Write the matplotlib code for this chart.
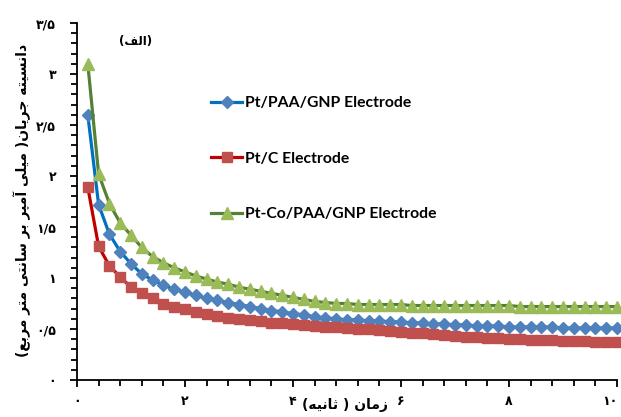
import matplotlib
matplotlib.use("Agg")
import matplotlib.pyplot as plt
from matplotlib.ticker import MultipleLocator, FixedLocator

# ---------------- data ----------------
time_s = [0.2, 0.4, 0.6, 0.8, 1.0, 1.2, 1.4, 1.6, 1.8, 2.0,
          2.2, 2.4, 2.6, 2.8, 3.0, 3.2, 3.4, 3.6, 3.8, 4.0,
          4.2, 4.4, 4.6, 4.8, 5.0, 5.2, 5.4, 5.6, 5.8, 6.0,
          6.2, 6.4, 6.6, 6.8, 7.0, 7.2, 7.4, 7.6, 7.8, 8.0,
          8.2, 8.4, 8.6, 8.8, 9.0, 9.2, 9.4, 9.6, 9.8, 10.0]

pt_paa_gnp = [2.60, 1.72, 1.43, 1.26, 1.14, 1.04, 0.98, 0.93, 0.89, 0.86,
              0.83, 0.80, 0.78, 0.76, 0.74, 0.72, 0.70, 0.68, 0.67, 0.65,
              0.64, 0.62, 0.61, 0.60, 0.59, 0.59, 0.58, 0.58, 0.57, 0.57,
              0.56, 0.56, 0.55, 0.55, 0.54, 0.54, 0.53, 0.53, 0.53, 0.52,
              0.52, 0.52, 0.52, 0.52, 0.51, 0.51, 0.51, 0.51, 0.51, 0.51]

pt_c = [1.89, 1.31, 1.12, 1.01, 0.91, 0.85, 0.80, 0.75, 0.72, 0.70,
        0.67, 0.65, 0.63, 0.61, 0.60, 0.59, 0.58, 0.56, 0.56, 0.55,
        0.54, 0.53, 0.52, 0.52, 0.51, 0.50, 0.50, 0.49, 0.48, 0.47,
        0.46, 0.46, 0.45, 0.44, 0.43, 0.42, 0.42, 0.41, 0.41, 0.40,
        0.40, 0.39, 0.39, 0.39, 0.38, 0.38, 0.38, 0.37, 0.37, 0.37]

pt_co_paa_gnp = [3.10, 2.02, 1.73, 1.54, 1.42, 1.30, 1.21, 1.15, 1.10, 1.06,
                 1.02, 0.99, 0.96, 0.94, 0.91, 0.89, 0.87, 0.85, 0.83, 0.81,
                 0.79, 0.77, 0.76, 0.75, 0.75, 0.74, 0.74, 0.74, 0.74, 0.74,
                 0.73, 0.73, 0.73, 0.73, 0.73, 0.73, 0.73, 0.73, 0.73, 0.73,
                 0.72, 0.72, 0.72, 0.72, 0.72, 0.72, 0.72, 0.72, 0.72, 0.72]

series_names = ["Pt/PAA/GNP Electrode", "Pt/C Electrode", "Pt-Co/PAA/GNP Electrode"]

x_ticks = [0, 2, 4, 6, 8, 10]
x_tick_labels = ["۰", "۲", "۴", "۶", "۸", "۱۰"]
y_ticks = [0, 0.5, 1, 1.5, 2, 2.5, 3, 3.5]
y_tick_labels = ["۰", "۰/۵", "۱", "۱/۵", "۲", "۲/۵", "۳", "۳/۵"]

x_label = "زمان ( ثانیه)"
y_label = "دانسیته جریان( میلی آمپر بر سانتی متر مربع)"
panel_label = "(الف)"

# ------------- minimal Arabic/Persian shaping (presentation forms) -------------
FORMS = {  # isolated, final, initial, medial
    'ا': ('\uFE8D', '\uFE8E', None, None),
    'آ': ('\uFE81', '\uFE82', None, None),
    'ب': ('\uFE8F', '\uFE90', '\uFE91', '\uFE92'),
    'پ': ('\uFB56', '\uFB57', '\uFB58', '\uFB59'),
    'ت': ('\uFE95', '\uFE96', '\uFE97', '\uFE98'),
    'ث': ('\uFE99', '\uFE9A', '\uFE9B', '\uFE9C'),
    'ج': ('\uFE9D', '\uFE9E', '\uFE9F', '\uFEA0'),
    'د': ('\uFEA9', '\uFEAA', None, None),
    'ر': ('\uFEAD', '\uFEAE', None, None),
    'ز': ('\uFEAF', '\uFEB0', None, None),
    'س': ('\uFEB1', '\uFEB2', '\uFEB3', '\uFEB4'),
    'ع': ('\uFEC9', '\uFECA', '\uFECB', '\uFECC'),
    'ف': ('\uFED1', '\uFED2', '\uFED3', '\uFED4'),
    'ل': ('\uFEDD', '\uFEDE', '\uFEDF', '\uFEE0'),
    'م': ('\uFEE1', '\uFEE2', '\uFEE3', '\uFEE4'),
    'ن': ('\uFEE5', '\uFEE6', '\uFEE7', '\uFEE8'),
    'ه': ('\uFEE9', '\uFEEA', '\uFEEB', '\uFEEC'),
    'ی': ('\uFBFC', '\uFBFD', '\uFBFE', '\uFBFF'),
}


def shape_rtl(text):
    out = []
    for i, c in enumerate(text):
        if c not in FORMS:
            out.append(c)
            continue
        prev = text[i - 1] if i > 0 else None
        nxt = text[i + 1] if i + 1 < len(text) else None
        jp = prev in FORMS and FORMS[prev][2] is not None
        jn = nxt in FORMS and FORMS[c][2] is not None
        iso, fin, ini, med = FORMS[c]
        if jp and jn:
            out.append(med)
        elif jp:
            out.append(fin)
        elif jn:
            out.append(ini)
        else:
            out.append(iso)
    mirror = {'(': ')', ')': '('}
    return ''.join(mirror.get(ch, ch) for ch in reversed(out))


# ---------------- figure ----------------
plt.rcParams['font.family'] = ['DejaVu Sans']
fig = plt.figure(figsize=(6.21, 4.17), dpi=100)
ax = fig.add_axes([0.124, 0.0887, 0.8696, 0.856])

styles = [
    dict(color="#0070C0", marker="D", mfc="#4F81BD", mec="#4F81BD", ms=6),
    dict(color="#C00000", marker="s", mfc="#C0504D", mec="#C0504D", ms=7),
    dict(color="#538135", marker="^", mfc="#9BBB59", mec="#9BBB59", ms=8),
]
data = [pt_paa_gnp, pt_c, pt_co_paa_gnp]
handles = []
for vals, st, name in zip(data, styles, series_names):
    ln, = ax.plot(time_s, vals, lw=2.3, clip_on=False, label=name, **st)
    handles.append(ln)

ax.set_xlim(0, 10)
ax.set_ylim(0, 3.5)
for s in ["top", "right"]:
    ax.spines[s].set_visible(False)
for s in ["left", "bottom"]:
    ax.spines[s].set_linewidth(1.3)
    ax.spines[s].set_color("black")

ax.xaxis.set_major_locator(FixedLocator(x_ticks))
ax.xaxis.set_minor_locator(MultipleLocator(0.4))
ax.yaxis.set_major_locator(FixedLocator(y_ticks))
ax.yaxis.set_minor_locator(MultipleLocator(0.1))
ax.set_xticklabels(x_tick_labels, fontweight="bold", fontsize=9)
ax.set_yticklabels(y_tick_labels, fontweight="bold", fontsize=9)
ax.tick_params(which="major", direction="out", length=5, width=1.3, pad=6)
ax.tick_params(which="minor", direction="out", length=4, width=1.3)
ax.tick_params(axis="y", which="major", pad=10)
ax.get_xticklabels()[-1].set_horizontalalignment("right")

fig.text(345 / 621, 1 - 405 / 417, shape_rtl(x_label), ha="center", va="center",
         fontsize=10, fontweight="bold")
fig.text(22 / 621, 1 - 200 / 417, shape_rtl(y_label), ha="center", va="center",
         rotation=90, fontsize=10, fontweight="bold")
fig.text(136 / 621, 1 - 41 / 417, shape_rtl(panel_label), ha="center", va="center",
         fontsize=8.5, fontweight="bold")

leg = ax.legend(handles=handles, loc="upper left",
                bbox_to_anchor=(211 / 621, 1 - 96 / 417), bbox_transform=fig.transFigure,
                frameon=False, handlelength=2.0, handletextpad=0.15,
                labelspacing=2.65, borderpad=0, borderaxespad=0,
                prop={"family": "Lato", "weight": "bold", "size": 11.3})

fig.savefig("out.png", dpi=100)
